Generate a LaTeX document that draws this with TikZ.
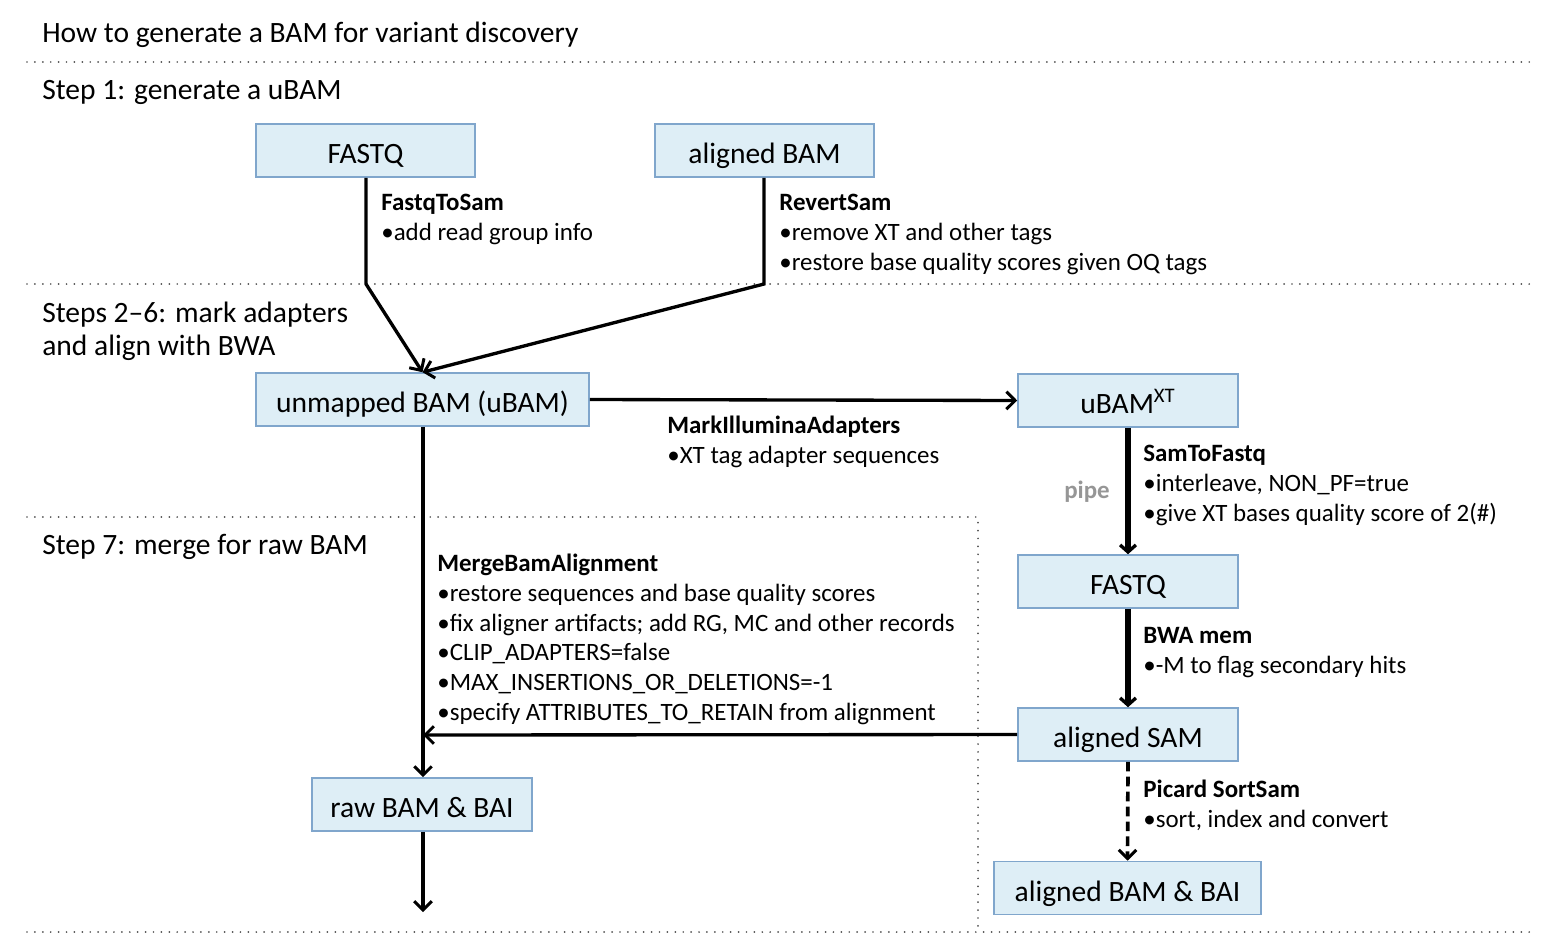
\documentclass[tikz,border=0pt]{standalone}
\usepackage{fontspec}
\setmainfont{Carlito}
\usetikzlibrary{arrows.meta,positioning}
\definecolor{boxfill}{RGB}{222,238,246}
\definecolor{boxline}{RGB}{128,166,204}
\definecolor{dotgray}{RGB}{80,80,80}
\definecolor{pipegray}{RGB}{150,150,150}
\tikzset{
	stepbox/.style={draw=boxline, fill=boxfill, line width=0.9pt, minimum height=1.06cm, inner sep=0pt, text height=16pt, text depth=1.2pt, font=\fontsize{16.8}{19}\selectfont},
	toollabel/.style={anchor=north west, align=left, inner sep=0pt, font=\fontsize{14.2}{16.9}\selectfont},
	steptitle/.style={anchor=west, align=left, inner sep=0pt, font=\fontsize{16.8}{18.7}\selectfont},
	sepline/.style={dotgray, line width=1.1pt, line cap=round, dash pattern=on 0pt off 4.5pt},
	flow/.style={line width=1.9pt, -{Straight Barb[length=5pt,width=10pt,line width=1.7pt]}},
	pipeflow/.style={line width=2.9pt, -{Straight Barb[length=4pt,width=9pt,line width=1.9pt]}},
	sortflow/.style={line width=2.1pt, dash pattern=on 5.5pt off 3pt, -{Straight Barb[length=5pt,width=10pt,line width=1.7pt]}}
}
\begin{document}
\begin{tikzpicture}[x=0.02cm, y=-0.02cm]
	\useasboundingbox (0,0) rectangle (1564,946);
	% section titles and separators
	\node [steptitle] (title) at (42,35) {How to generate a BAM for variant discovery};
	\draw [sepline] (27,62) -- (1532,62);
	\node [steptitle] (step1) at (42,92) {Step 1: generate a uBAM};
	\draw [sepline] (27,284) -- (1532,284);
	\node [steptitle] (step2) at (42,331) {Steps 2--6: mark adapters\\and align with BWA};
	\draw [sepline] (27,517) -- (978,517) -- (978,930);
	\node [steptitle] (step7) at (42,547) {Step 7: merge for raw BAM};
	\draw [sepline] (27,932) -- (1532,932);

	% boxes
	\node [stepbox, minimum width=4.38cm] (fastq) at (365.5,150.5) {FASTQ};
	\node [stepbox, minimum width=4.38cm] (alnbam) at (764.5,150.5) {aligned BAM};
	\node [stepbox, minimum width=6.66cm] (ubam) at (422.5,399.5) {unmapped BAM (uBAM)};
	\node [stepbox, minimum width=4.4cm] (ubamxt) at (1128,400.5) {uBAM\textsuperscript{XT}};
	\node [stepbox, minimum width=4.4cm] (fastqtwo) at (1128,581.5) {FASTQ};
	\node [stepbox, minimum width=4.4cm] (alnsam) at (1128,734.5) {aligned SAM};
	\node [stepbox, minimum width=5.34cm] (alnbai) at (1127.5,888) {aligned BAM \& BAI};
	\node [stepbox, minimum width=4.4cm] (rawbai) at (422,804.5) {raw BAM \& BAI};

	% tool labels
	\node [toollabel] (fqtosam) at (381,194) {\textbf{FastqToSam}\\•add read group info};
	\node [toollabel] (revsam) at (779,194) {\textbf{RevertSam}\\•remove XT and other tags\\•restore base quality scores given OQ tags};
	\node [toollabel] (markadapt) at (667,416) {\textbf{MarkIlluminaAdapters}\\•XT tag adapter sequences};
	\node [toollabel] (samtofq) at (1143,445) {\textbf{SamToFastq}\\•interleave, NON\_PF=true\\•give XT bases quality score of 2(\#)};
	\node [font=\fontsize{14.2}{16}\selectfont\bfseries, text=pipegray, inner sep=0pt] (pipe) at (1087,492) {pipe};
	\node [toollabel] (bwamem) at (1143,627) {\textbf{BWA mem}\\•-M to flag secondary hits};
	\node [toollabel] (sortsam) at (1143,780) {\textbf{Picard SortSam}\\•sort, index and convert};
	\node [toollabel] (mergebam) at (437,554) {\textbf{MergeBamAlignment}\\•restore sequences and base quality scores\\•fix aligner artifacts; add RG, MC and other records\\•CLIP\_ADAPTERS=false\\•MAX\_INSERTIONS\_OR\_DELETIONS=-1\\•specify ATTRIBUTES\_TO\_RETAIN from alignment};

	% connectors
	\coordinate (fqbend) at (366,284);
	\coordinate (rsbend) at (764,284);
	\coordinate (mergein) at (423,735);
	\coordinate (rawout) at (423,912);
	\draw [flow] (fastq.south -| fqbend) -- (fqbend) -- (ubam.north);
	\draw [flow] (alnbam.south -| rsbend) -- (rsbend) -- (ubam.north);
	\draw [flow] (ubam.east) -- (ubamxt.west);
	\draw [pipeflow] (ubamxt.south) -- (fastqtwo.north);
	\draw [pipeflow] (fastqtwo.south) -- (alnsam.north);
	\draw [sortflow] (alnsam.south) -- (alnbai.north);
	\draw [flow] (alnsam.west) -- (mergein);
	\draw [flow] (ubam.south -| mergein) -- (rawbai.north -| mergein);
	\draw [flow] (rawbai.south -| rawout) -- (rawout);
\end{tikzpicture}
\end{document}
